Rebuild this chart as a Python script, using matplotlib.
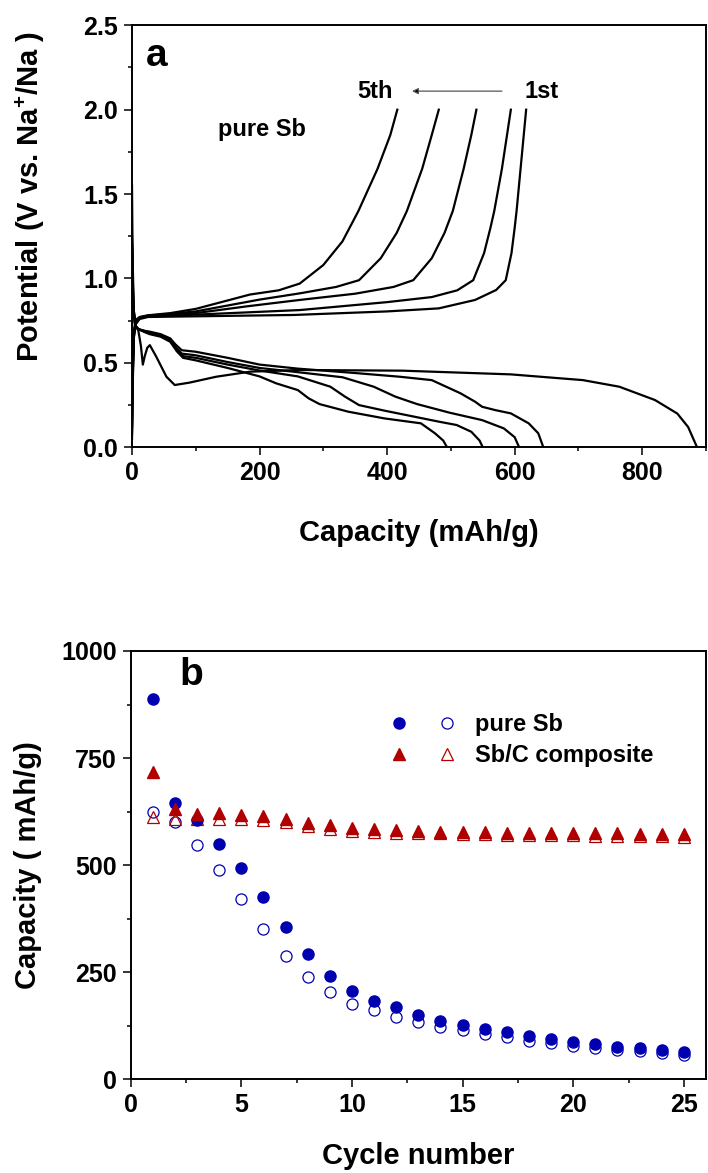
import matplotlib
matplotlib.use("Agg")
import matplotlib.pyplot as plt
from matplotlib.ticker import MultipleLocator, FormatStrFormatter
from matplotlib.legend_handler import HandlerTuple
from matplotlib.lines import Line2D

plt.rcParams['font.family'] = ['Liberation Sans', 'DejaVu Sans']
plt.rcParams['font.weight'] = 'bold'
plt.rcParams['mathtext.fontset'] = 'custom'
plt.rcParams['mathtext.rm'] = 'Liberation Sans:bold'
plt.rcParams['mathtext.default'] = 'rm'

# ---- panel a: charge/discharge profiles of pure Sb (cycles 1-5)
dis1_cap = [0, 1, 3, 6, 10, 14, 17, 20, 24, 28, 38, 54, 67, 90, 132, 185, 263, 424, 594, 707, 764, 820, 855, 872, 886]
dis1_v = [1.55, 1.1, 0.8, 0.72, 0.69, 0.6, 0.49, 0.54, 0.59, 0.605, 0.537, 0.418, 0.369, 0.383, 0.418, 0.448, 0.458, 0.454, 0.432, 0.398, 0.359, 0.28, 0.2, 0.12, 0.0]
dis2_cap = [0, 2, 5, 10, 20, 28, 45, 60, 68, 78, 100, 150, 200, 260, 350, 420, 470, 515, 538, 549, 570, 594, 622, 637, 645]
dis2_v = [1.25, 0.85, 0.72, 0.7, 0.69, 0.685, 0.67, 0.645, 0.61, 0.575, 0.566, 0.53, 0.49, 0.466, 0.44, 0.418, 0.398, 0.32, 0.27, 0.24, 0.22, 0.201, 0.142, 0.083, 0.0]
dis3_cap = [0, 2, 5, 10, 20, 28, 45, 60, 68, 78, 100, 150, 200, 260, 330, 379, 413, 447, 498, 549, 583, 600, 607]
dis3_v = [1.22, 0.84, 0.72, 0.7, 0.688, 0.68, 0.665, 0.635, 0.595, 0.555, 0.545, 0.505, 0.47, 0.445, 0.415, 0.359, 0.30, 0.256, 0.205, 0.161, 0.112, 0.06, 0.0]
dis4_cap = [0, 2, 5, 10, 20, 28, 45, 60, 70, 80, 100, 150, 200, 260, 311, 334, 356, 396, 481, 509, 532, 545, 550]
dis4_v = [1.2, 0.83, 0.72, 0.7, 0.685, 0.675, 0.66, 0.63, 0.58, 0.54, 0.53, 0.49, 0.455, 0.42, 0.359, 0.30, 0.25, 0.217, 0.152, 0.132, 0.092, 0.04, 0.0]
dis5_cap = [0, 2, 5, 10, 20, 28, 45, 60, 70, 80, 100, 150, 200, 226, 260, 277, 294, 339, 396, 453, 475, 488, 494]
dis5_v = [1.18, 0.82, 0.72, 0.7, 0.682, 0.67, 0.655, 0.625, 0.57, 0.53, 0.515, 0.47, 0.42, 0.379, 0.339, 0.29, 0.256, 0.211, 0.171, 0.142, 0.083, 0.04, 0.0]

chg1_cap = [0, 1, 3, 6, 12, 25, 60, 100, 254, 400, 481, 538, 571, 586, 595, 600, 603, 608, 613, 618]
chg1_v = [0.05, 0.35, 0.65, 0.73, 0.76, 0.772, 0.774, 0.776, 0.784, 0.805, 0.823, 0.873, 0.932, 0.99, 1.15, 1.3, 1.4, 1.6, 1.8, 2.0]
chg2_cap = [0, 1, 3, 6, 12, 25, 60, 100, 263, 400, 470, 510, 535, 552, 562, 568, 580, 588, 594]
chg2_v = [0.08, 0.4, 0.66, 0.74, 0.765, 0.775, 0.78, 0.786, 0.813, 0.86, 0.89, 0.93, 0.99, 1.15, 1.3, 1.4, 1.65, 1.85, 2.0]
chg3_cap = [0, 1, 3, 6, 12, 25, 60, 100, 180, 263, 350, 410, 441, 470, 490, 503, 520, 532, 540]
chg3_v = [0.1, 0.42, 0.67, 0.745, 0.768, 0.778, 0.785, 0.795, 0.835, 0.873, 0.91, 0.95, 0.99, 1.12, 1.27, 1.4, 1.65, 1.85, 2.0]
chg4_cap = [0, 1, 3, 6, 12, 25, 60, 100, 150, 200, 263, 320, 356, 390, 415, 431, 455, 470, 481]
chg4_v = [0.12, 0.45, 0.68, 0.75, 0.77, 0.78, 0.79, 0.805, 0.84, 0.875, 0.912, 0.95, 0.99, 1.12, 1.27, 1.4, 1.65, 1.85, 2.0]
chg5_cap = [0, 1, 3, 6, 12, 25, 60, 100, 140, 185, 230, 263, 300, 330, 355, 385, 405, 416]
chg5_v = [0.15, 0.5, 0.69, 0.755, 0.772, 0.782, 0.795, 0.82, 0.86, 0.905, 0.93, 0.97, 1.08, 1.22, 1.4, 1.65, 1.85, 2.0]

# ---- panel b: cycling capacity
cycles = list(range(1, 26))
sb_dis = [888, 645, 606, 549, 493, 425, 356, 292, 242, 205, 183, 169, 149, 137, 127, 118, 110, 101, 94, 87, 82, 76, 72, 68, 64]
sb_chg = [625, 601, 546, 489, 421, 351, 287, 239, 203, 175, 162, 145, 133, 122, 114, 105, 98, 90, 84, 78, 72, 68, 65, 61, 57]
sbc_dis = [718, 630, 620, 621, 617, 615, 607, 599, 594, 586, 584, 581, 580, 578, 578, 577, 576, 575, 575, 575, 574, 574, 573, 573, 572]
sbc_chg = [612, 608, 607, 607, 608, 606, 600, 592, 585, 579, 578, 576, 575, 574, 573, 572, 571, 570, 570, 570, 569, 569, 568, 568, 566]

blue = '#0000b0'
red = '#b00000'
W, H = 708, 1173

fig = plt.figure(figsize=(W / 100, H / 100), dpi=100)
ax_a = fig.add_axes([132 / W, (H - 447.3) / H, (706 - 132) / W, (447.3 - 25.3) / H])
ax_b = fig.add_axes([130.7 / W, (H - 1079.3) / H, (706 - 130.7) / W, (1079.3 - 651) / H])

def style(ax):
    for s in ax.spines.values():
        s.set_linewidth(1.4)
    ax.tick_params(which='both', direction='out', top=False, right=False, width=1.1, labelsize=18, pad=4)
    ax.tick_params(which='major', length=6)
    ax.tick_params(which='minor', length=3)

# panel a
for c, v in [(dis1_cap, dis1_v), (dis2_cap, dis2_v), (dis3_cap, dis3_v), (dis4_cap, dis4_v), (dis5_cap, dis5_v),
             (chg1_cap, chg1_v), (chg2_cap, chg2_v), (chg3_cap, chg3_v), (chg4_cap, chg4_v), (chg5_cap, chg5_v)]:
    ax_a.plot(c, v, color='black', lw=1.6, solid_joinstyle='round')
ax_a.set_xlim(0, 900)
ax_a.set_ylim(0, 2.5)
ax_a.xaxis.set_major_locator(MultipleLocator(200))
ax_a.xaxis.set_minor_locator(MultipleLocator(100))
ax_a.yaxis.set_major_locator(MultipleLocator(0.5))
ax_a.yaxis.set_minor_locator(MultipleLocator(0.25))
ax_a.yaxis.set_major_formatter(FormatStrFormatter('%.1f'))
style(ax_a)
ax_a.set_xlabel('Capacity (mAh/g)', fontsize=21, fontweight='bold', labelpad=24)
ax_a.set_ylabel('Potential (V vs. Na$^{+}$/Na )', fontsize=21, fontweight='bold')
ax_a.yaxis.set_label_coords(-0.148, 0.593)
ax_a.text(22, 2.32, 'a', fontsize=28, fontweight='bold', va='center', ha='left')
ax_a.text(203, 1.88, 'pure Sb', fontsize=17, fontweight='bold', va='center', ha='center')
ax_a.text(381, 2.11, '5th', fontsize=17, fontweight='bold', va='center', ha='center')
ax_a.text(642, 2.11, '1st', fontsize=17, fontweight='bold', va='center', ha='center')
ax_a.annotate('', xy=(439, 2.11), xytext=(580, 2.11),
              arrowprops=dict(arrowstyle='-|>', color='#777777', lw=0.9, mutation_scale=9,
                              shrinkA=0, shrinkB=0, fc='black', ec='#555555'))

# panel b
ax_b.plot(cycles, sb_chg, 'o', mfc='none', mec=blue, mew=0.9, ms=8)
ax_b.plot(cycles, sbc_chg, '^', mfc='none', mec=red, mew=0.9, ms=8.5)
ax_b.plot(cycles, sb_dis, 'o', color=blue, ms=8)
ax_b.plot(cycles, sbc_dis, '^', color=red, ms=8.5)
ax_b.set_xlim(0, 26)
ax_b.set_ylim(0, 1000)
ax_b.xaxis.set_major_locator(MultipleLocator(5))
ax_b.xaxis.set_minor_locator(MultipleLocator(2.5))
ax_b.yaxis.set_major_locator(MultipleLocator(250))
ax_b.yaxis.set_minor_locator(MultipleLocator(125))
style(ax_b)
ax_b.set_xlabel('Cycle number', fontsize=21, fontweight='bold', labelpad=18)
ax_b.set_ylabel('Capacity ( mAh/g)', fontsize=21, fontweight='bold', labelpad=14)
ax_b.text(2.2, 945, 'b', fontsize=28, fontweight='bold', va='center', ha='left')

h_sb = (Line2D([], [], ls='none', marker='o', color=blue, ms=8),
        Line2D([], [], ls='none', marker='o', mfc='none', mec=blue, mew=0.9, ms=8))
h_sbc = (Line2D([], [], ls='none', marker='^', color=red, ms=8.5),
         Line2D([], [], ls='none', marker='^', mfc='none', mec=red, mew=0.9, ms=8.5))
ax_b.legend([h_sb, h_sbc], ['pure Sb', 'Sb/C composite'],
            handler_map={tuple: HandlerTuple(ndivide=None, pad=0)},
            loc='upper left', bbox_to_anchor=(0.426, 0.855), frameon=False,
            borderpad=0, borderaxespad=0, handlelength=4.0, handletextpad=0.2,
            labelspacing=0.35, prop={'size': 17, 'weight': 'bold'})

fig.savefig('out.png', dpi=100)
